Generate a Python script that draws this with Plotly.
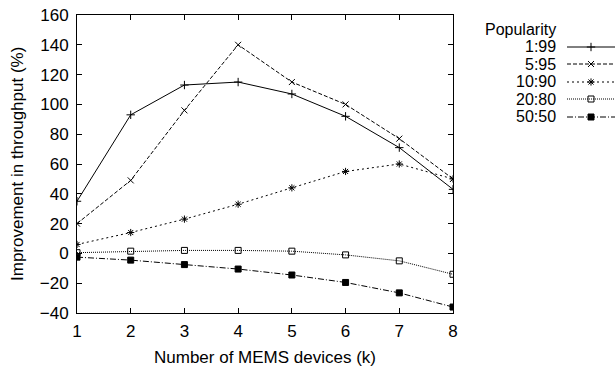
import plotly.graph_objects as go

k = [1, 2, 3, 4, 5, 6, 7, 8]
labels = ["1:99", "5:95", "10:90", "20:80", "50:50"]
s_1_99 = [35, 93, 113, 115, 107, 92, 71, 43]
s_5_95 = [20, 49, 96, 140, 115, 100, 77, 50]
s_10_90 = [6, 14, 23, 33, 44, 55, 60, 50]
s_20_80 = [0.5, 1.5, 2, 2, 1.5, -1, -5, -14]
s_50_50 = [-2.5, -4.5, -7.5, -10.5, -14.5, -19.5, -26.5, -36]
series = [s_1_99, s_5_95, s_10_90, s_20_80, s_50_50]

dashes = ["solid", "4px,2px", "2px,3px", "1px,1px", "6px,2px,1px,2px"]
symbols = ["cross-thin", "x-thin", "asterisk", "square-open", "square"]
sizes = [6, 6, 6, 6, 6]

FONT = "Liberation Sans, Arial, sans-serif"
FS = 17
LFS = 16

# pixel layout of the plot area
L, R, T, B = 77, 453, 15, 313
PW = 615 - L  # plotting width with r margin 0
H = B - T

fig = go.Figure()
for name, ys, d, sym, sz in zip(labels, series, dashes, symbols, sizes):
    fig.add_trace(go.Scatter(
        x=k, y=ys, name=name, mode="lines+markers", showlegend=False,
        line=dict(color="black", width=1, dash=d),
        marker=dict(symbol=sym, size=sz, color="black",
                    line=dict(color="black", width=1)),
    ))

def pxx(x): return (x - L) / PW
def pyy(y): return (B - y) / H

# custom legend: text then sample (gnuplot style)
fig.add_annotation(x=pxx(557), y=pyy(29), xref="paper", yref="paper",
                   text="Popularity", showarrow=False, xanchor="right",
                   yanchor="middle", borderpad=0,
                   font=dict(family=FONT, size=LFS, color="black"))
leg_y = [47, 64, 82, 99, 117]
for i, (name, yy) in enumerate(zip(labels, leg_y)):
    fig.add_annotation(x=pxx(557), y=pyy(yy), xref="paper", yref="paper",
                       text=name, showarrow=False, xanchor="right",
                       yanchor="middle", borderpad=0,
                       font=dict(family=FONT, size=LFS, color="black"))
    fig.add_trace(go.Scatter(
        x=[567, 615], y=[yy, yy], xaxis="x2", yaxis="y2", mode="lines",
        showlegend=False, hoverinfo="skip", cliponaxis=False,
        line=dict(color="black", width=1, dash=dashes[i]),
    ))
    fig.add_trace(go.Scatter(
        x=[591], y=[yy], xaxis="x2", yaxis="y2", mode="markers",
        showlegend=False, hoverinfo="skip", cliponaxis=False,
        marker=dict(symbol=symbols[i], size=sizes[i], color="black",
                    line=dict(color="black", width=1)),
    ))

# axis titles as annotations for exact placement
fig.add_annotation(x=pxx((L + R) / 2), y=pyy(357), xref="paper", yref="paper",
                   text="Number of MEMS devices (k)", showarrow=False,
                   xanchor="center", yanchor="middle",
                   font=dict(family=FONT, size=FS, color="black"))
fig.add_annotation(x=pxx(17), y=pyy((T + B) / 2), xref="paper", yref="paper",
                   text="Improvement in throughput (%)", showarrow=False,
                   textangle=-90, xanchor="center", yanchor="middle",
                   font=dict(family=FONT, size=FS, color="black"))

fig.update_layout(
    width=615, height=367,
    margin=dict(l=L, r=0, t=T, b=367 - B, autoexpand=False),
    paper_bgcolor="white", plot_bgcolor="white",
    font=dict(family=FONT, size=FS, color="black"),
    showlegend=False,
    xaxis=dict(domain=[0, (R - L) / PW], range=[1, 8], tickvals=k,
               ticks="inside", ticklen=5, tickcolor="black",
               ticklabelstandoff=3,
               showline=True, linecolor="black", linewidth=1, mirror="ticks",
               showgrid=False, zeroline=False, automargin=False),
    yaxis=dict(range=[-40, 160], dtick=20, ticks="inside", ticklen=5,
               tickcolor="black", ticklabelstandoff=4,
               showline=True, linecolor="black", linewidth=1, mirror="ticks",
               showgrid=False, zeroline=False, automargin=False),
    xaxis2=dict(domain=[(567 - L) / PW, 1], range=[567, 615], anchor="y2",
                visible=False),
    yaxis2=dict(domain=[0, 1], range=[B, T], anchor="x2", visible=False),
)

fig.write_html("out.html")
